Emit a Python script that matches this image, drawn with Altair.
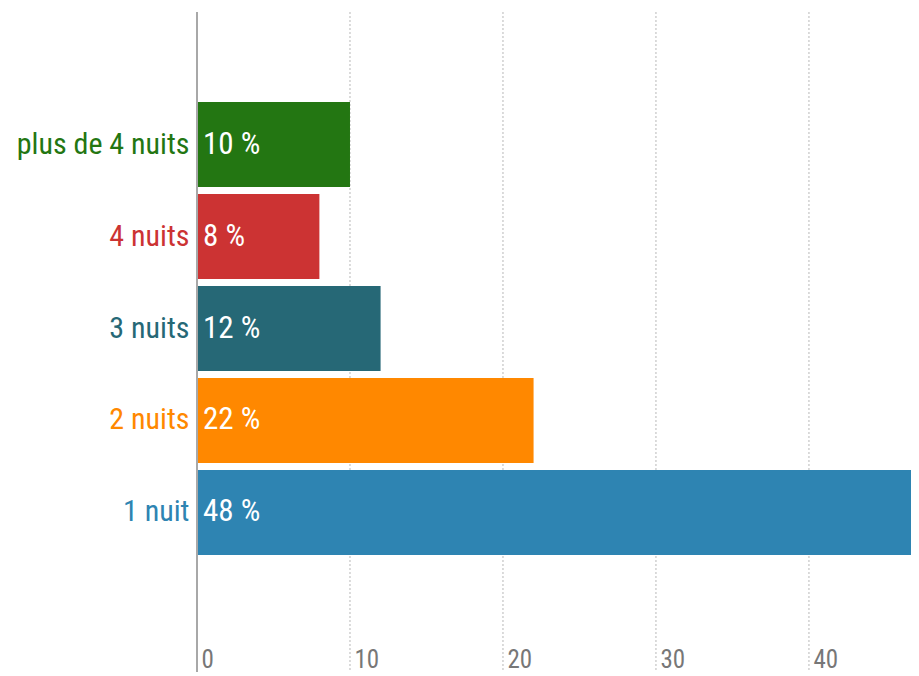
import altair as alt
import pandas as pd

categories = ["plus de 4 nuits", "4 nuits", "3 nuits", "2 nuits", "1 nuit"]
values = [10, 8, 12, 22, 48]
labels = ["10 %", "8 %", "12 %", "22 %", "48 %"]
colors = ["#237612", "#cc3333", "#266876", "#ff8800", "#2e84b2"]
x_ticks = [0, 10, 20, 30, 40]

FONT = "Roboto Condensed, Noto Sans Condensed, Open Sans Condensed Light, DejaVu Sans Condensed, sans-serif"

df = pd.DataFrame({"cat": categories, "value": values, "label": labels, "color": colors})
grid_df = pd.DataFrame({"tick": x_ticks[1:]})

label_color = {
    "condition": [
        {"test": f"datum.value == '{c}'", "value": col}
        for c, col in zip(categories, colors)
    ],
    "value": "#333333",
}

y_enc = alt.Y(
    "cat:N",
    sort=categories,
    title=None,
    scale=alt.Scale(paddingInner=0.076, paddingOuter=0, range=[90, 543]),
    axis=alt.Axis(
        domain=False,
        ticks=False,
        labelPadding=8,
        labelFontSize=30,
        labelFont=FONT,
        labelColor=label_color,
        labelLimit=300,
    ),
)

x_scale = alt.Scale(domain=[0, 46.67], nice=False, zero=True)

grid = alt.Chart(grid_df).mark_rule(
    color="#b8b8b8", strokeWidth=1, strokeDash=[2, 2]
).encode(x=alt.X("tick:Q", scale=x_scale))

bars = alt.Chart(df).mark_bar(clip=True).encode(
    x=alt.X(
        "value:Q",
        scale=x_scale,
        title=None,
        axis=alt.Axis(
            values=x_ticks,
            domain=False,
            ticks=False,
            grid=False,
            labelAlign="left",
            labelOffset=4,
            labelBaseline="bottom",
            labelPadding=0,
            labelFontSize=25,
            labelFont=FONT,
            labelColor="#777777",
        ),
    ),
    y=y_enc,
    color=alt.Color("color:N", scale=None),
)

text = alt.Chart(df).mark_text(
    align="left", baseline="middle", dx=6, color="white", fontSize=31, font=FONT
).encode(
    x=alt.datum(0, scale=x_scale),
    y=alt.Y("cat:N", sort=categories),
    text="label:N",
)

zero_line = alt.Chart(df).mark_rule(color="#a8a8a8", strokeWidth=2).encode(
    x=alt.datum(0)
)

chart = (
    alt.layer(grid, bars, zero_line, text)
    .properties(
        width=714,
        height=660,
        autosize=alt.AutoSizeParams(type="none"),
        padding={"left": 189, "top": 4, "right": 0, "bottom": 0},
    )
    .configure_view(stroke=None)
)

chart.save("out.html", embed_options={"renderer": "svg", "actions": False})
